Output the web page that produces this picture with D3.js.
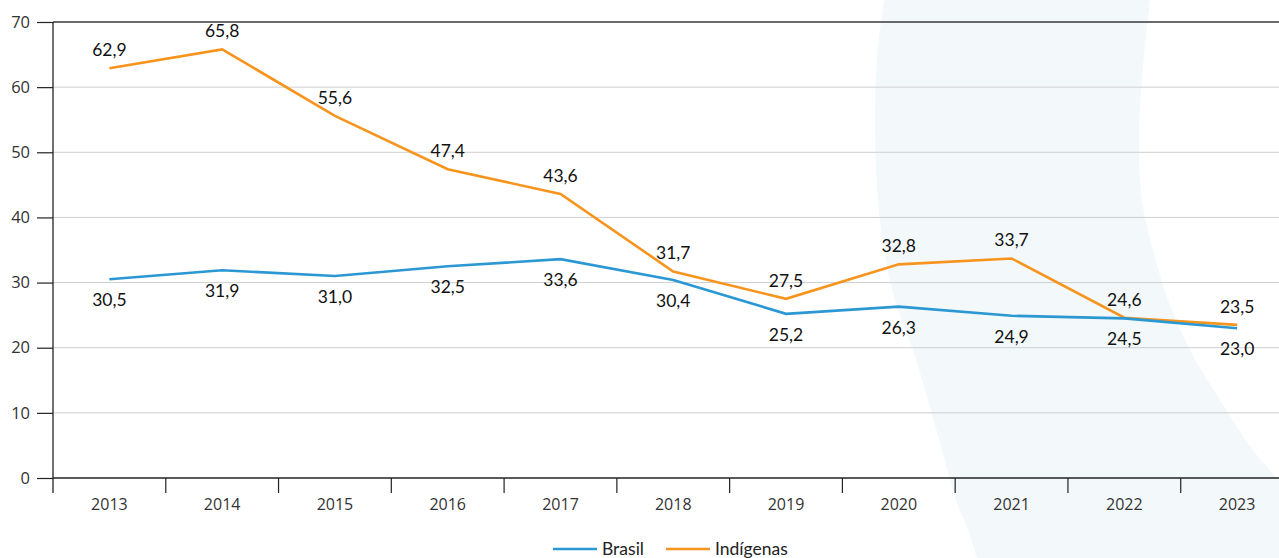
<!DOCTYPE html>
<html>
<head>
<meta charset="utf-8">
<script src="https://cdn.jsdelivr.net/npm/d3@7"></script>
<style>
  html, body { margin: 0; padding: 0; background: #fff; }
  svg { display: block; }
</style>
</head>
<body>
<svg id="chart" width="1279" height="558"></svg>
<script>
// ---- data ----
const years = ["2013","2014","2015","2016","2017","2018","2019","2020","2021","2022","2023"];
const brasil = [30.5, 31.9, 31.0, 32.5, 33.6, 30.4, 25.2, 26.3, 24.9, 24.5, 23.0];
const indigenas = [62.9, 65.8, 55.6, 47.4, 43.6, 31.7, 27.5, 32.8, 33.7, 24.6, 23.5];
const yTicks = [0, 10, 20, 30, 40, 50, 60, 70];
const seriesNames = ["Brasil", "Indígenas"];
const seriesColors = ["#2b98d3", "#f7941d"];

// decorative background band (not data)
const decoLeft = [[884,0],[877,60],[875,130],[878,200],[884,250],[895,300],[913,350],[928,400],[942,450],[956,500],[968,530],[977,558]];
const decoRight = [[1279,480],[1253,450],[1220,400],[1190,350],[1168,300],[1153,250],[1142,200],[1139,133],[1143,67],[1150,0]];

const svg = d3.select("#chart");
const W = 1279, H = 558;
const mLeft = 53, mTop = 22, mBottom = 478, mRight = 1293.5;

const x = d3.scaleBand().domain(years).range([mLeft, mRight]).padding(0);
const y = d3.scaleLinear().domain([0, 70]).range([mBottom, mTop]);
const cx = d => x(d) + x.bandwidth() / 2;

// background decoration
const curve = d3.line().curve(d3.curveCatmullRom);
const pathD = curve(decoLeft) + "L1279,558" + curve(decoRight).replace(/^M/, "L") + "Z";
svg.append("path").attr("d", pathD).attr("fill", "#f3f8fb");

// gridlines
svg.append("g").selectAll("line").data(yTicks.filter(t => t > 0)).join("line")
  .attr("x1", mLeft).attr("x2", W)
  .attr("y1", d => y(d)).attr("y2", d => y(d))
  .attr("stroke", d => d === 70 ? "#3a3a3a" : "#cfcfcf")
  .attr("stroke-width", d => d === 70 ? 1.5 : 1);

// y axis
const yAxis = svg.append("g").attr("transform", `translate(${mLeft},0)`)
  .call(d3.axisLeft(y).tickValues(yTicks).tickSize(16).tickPadding(7).tickFormat(d3.format("d")));
yAxis.select(".domain").attr("d", `M0,${mTop}V${mBottom + 15}`).attr("stroke", "#222").attr("stroke-width", 1.3);
yAxis.selectAll(".tick line").attr("stroke", "#222").attr("stroke-width", 1.2);
yAxis.selectAll(".tick text").attr("font-family", "'Open Sans', sans-serif").attr("font-size", 16.5).attr("fill", "#333");

// x axis
const xAxis = svg.append("g").attr("transform", `translate(0,${mBottom})`)
  .call(d3.axisBottom(x).tickSize(0).tickPadding(21));
xAxis.select(".domain").attr("d", `M${mLeft},0H${W}`).attr("stroke", "#222").attr("stroke-width", 1.5);
xAxis.selectAll(".tick text").attr("font-family", "'Open Sans', sans-serif").attr("font-size", 16).attr("fill", "#333");
xAxis.append("g").selectAll("line").data(years.slice(1)).join("line")
  .attr("x1", d => x(d)).attr("x2", d => x(d)).attr("y1", 0).attr("y2", 15)
  .attr("stroke", "#222").attr("stroke-width", 1.2);

// lines
const line = d3.line().x((d, i) => cx(years[i])).y(d => y(d));
const seriesData = [indigenas, brasil];
const seriesCol = [seriesColors[1], seriesColors[0]];
seriesData.forEach((s, k) => {
  svg.append("path").datum(s).attr("d", line)
    .attr("fill", "none").attr("stroke", seriesCol[k]).attr("stroke-width", 2.6)
    .attr("stroke-linejoin", "miter");
});

// labels
const fmt = v => v.toFixed(1).replace(".", ",");
svg.append("g").selectAll("text").data(indigenas).join("text")
  .attr("x", (d, i) => cx(years[i])).attr("y", d => y(d) - 12)
  .attr("text-anchor", "middle").attr("font-family", "Lato, sans-serif").attr("font-size", 17.5)
  .attr("fill", "#111").text(fmt);
svg.append("g").selectAll("text").data(brasil).join("text")
  .attr("x", (d, i) => cx(years[i])).attr("y", d => y(d) + 27)
  .attr("text-anchor", "middle").attr("font-family", "Lato, sans-serif").attr("font-size", 17.5)
  .attr("fill", "#111").text(fmt);

// legend
const legend = svg.append("g").attr("transform", "translate(553,549)");
const legX = [0, 113];
seriesNames.forEach((n, i) => {
  const g = legend.append("g").attr("transform", `translate(${legX[i]},0)`);
  g.append("line").attr("x1", 0).attr("x2", 44).attr("y1", 0).attr("y2", 0)
    .attr("stroke", seriesColors[i]).attr("stroke-width", 2.6);
  g.append("text").attr("x", 49).attr("y", 6).attr("font-family", "Lato, sans-serif")
    .attr("font-size", 17.5).attr("fill", "#222").text(n);
});
</script>
</body>
</html>
